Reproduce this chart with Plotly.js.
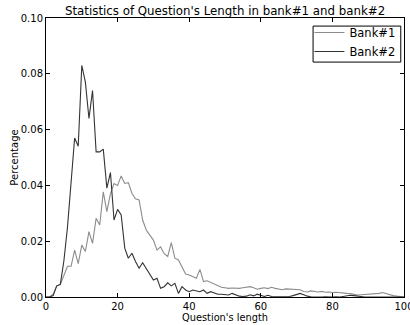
<!DOCTYPE html>
<html>
<head>
<meta charset="utf-8">
<script src="https://cdn.plot.ly/plotly-3.0.1.min.js"></script>
<style>html,body{margin:0;padding:0;background:#fff;}#chart{width:410px;height:325px;}</style>
</head>
<body>
<div id="chart"></div>
<script>
// Question length (0..100)
const lengths = Array.from({length: 101}, (_, i) => i);

const bank1 = [
  0, 0, 0.001, 0.004, 0.0045, 0.008, 0.011, 0.011, 0.0168, 0.012,
  0.0186, 0.0163, 0.0234, 0.0192, 0.0282, 0.0258, 0.0377, 0.0306, 0.037, 0.0407,
  0.040, 0.0434, 0.0407, 0.041, 0.0372, 0.0352, 0.0348, 0.0276, 0.024, 0.0222,
  0.0204, 0.0168, 0.018, 0.0155, 0.0145, 0.0195, 0.0139, 0.0133, 0.0106, 0.0082,
  0.0079, 0.0073, 0.0067, 0.0099, 0.0055, 0.0058, 0.0052, 0.0045, 0.004, 0.0035,
  0.0033, 0.0031, 0.0032, 0.0031, 0.0031, 0.0033, 0.0035, 0.0037, 0.0033, 0.0028,
  0.0031, 0.0033, 0.0030, 0.0035, 0.0031, 0.0028, 0.0026, 0.0029, 0.0028, 0.0027,
  0.0028, 0.0026, 0.0020, 0.0018, 0.0022, 0.0019, 0.0018, 0.0020, 0.0017, 0.0018,
  0.0016, 0.0017, 0.0015, 0.0014, 0.0013, 0.0012, 0.0010, 0.0007, 0.0008, 0.0009,
  0.0010, 0.0010, 0.0011, 0.0013, 0.0016, 0.0012, 0.0008, 0.0005, 0.0003, 0.0001,
  0
];

const bank2 = [
  0, 0, 0.0005, 0.004, 0.0045, 0.013, 0.025, 0.040, 0.057, 0.054,
  0.083, 0.077, 0.064, 0.074, 0.052, 0.052, 0.053, 0.039, 0.0446, 0.0276,
  0.0314, 0.0294, 0.0175, 0.0139, 0.0157, 0.0127, 0.0103, 0.0123, 0.0103, 0.0085,
  0.0061, 0.0067, 0.0031, 0.0037, 0.0051, 0.004, 0.0049, 0.0013, 0.0037, 0.0025,
  0.0019, 0.0025, 0.0022, 0.0019, 0.0025, 0.0013, 0.0019, 0.0014, 0.0010, 0.0010,
  0.0008, 0.0007, 0.0013, 0.0008, 0.0003, 0.0002, 0.0003, 0.0008, 0.0004, 0.0010,
  0.0005, 0.0002, 0.0006, 0.0002, 0.0001, 0.0001, 0.0002, 0.0001, 0.0002, 0.0005,
  0.0009, 0.0013, 0.0008, 0.0003, 0.0001, 0, 0.0001, 0, 0.0001, 0,
  0, 0.0001, 0, 0.0002, 0.0004, 0.0006, 0.0005, 0.0003, 0.0001, 0,
  0, 0, 0, 0, 0, 0, 0, 0, 0, 0,
  0
];

const seriesNames = ["Bank#1", "Bank#2"];
const xTicks = [0, 20, 40, 60, 80, 100];
const yTicks = [0, 0.02, 0.04, 0.06, 0.08, 0.10];

const font = "DejaVu Sans, sans-serif";

const traces = [
  {x: lengths, y: bank1, name: seriesNames[0], mode: "lines", type: "scatter",
   line: {color: "#8c8c8c", width: 1.1}},
  {x: lengths, y: bank2, name: seriesNames[1], mode: "lines", type: "scatter",
   line: {color: "#333333", width: 1.1}}
];

const axisCommon = {
  showgrid: false, zeroline: false, showline: true, linecolor: "#000", linewidth: 1,
  mirror: "allticks", ticks: "inside", ticklen: 4, tickcolor: "#000", tickwidth: 1,
  ticklabeloverflow: "allow",
  tickfont: {family: font, size: 10, color: "#000"}
};

const layout = {
  width: 410, height: 325,
  margin: {l: 46, r: 6, t: 18, b: 28},
  paper_bgcolor: "#fff", plot_bgcolor: "#fff",
  font: {family: font, color: "#000"},
  title: {text: "Statistics of Question's Length in bank#1 and bank#2",
          font: {family: font, size: 11.8, color: "#000"},
          x: 0.549, xanchor: "center", y: 0.968, yanchor: "middle"},
  xaxis: Object.assign({}, axisCommon, {
    range: [0, 100], tickvals: xTicks, ticktext: xTicks.map(String),
    title: {text: "Question's length", font: {family: font, size: 9.8}, standoff: 3}
  }),
  yaxis: Object.assign({}, axisCommon, {
    range: [0, 0.10], tickvals: yTicks, ticktext: yTicks.map(v => v.toFixed(2)),
    title: {text: "Percentage", font: {family: font, size: 10}, standoff: 0}
  }),
  shapes: [{type: "rect", xref: "paper", yref: "paper", layer: "above",
            x0: 0.746, x1: 0.991, y0: 0.842, y1: 0.971,
            line: {color: "#000", width: 1}, fillcolor: "#fff"}],
  showlegend: true,
  legend: {x: 0.99, xanchor: "right", y: 1.0, yanchor: "top",
           borderwidth: 0, bgcolor: "rgba(0,0,0,0)",
           font: {family: font, size: 11.5, color: "#000"},
           tracegroupgap: 0, itemwidth: 30}
};

Plotly.newPlot("chart", traces, layout, {staticPlot: true, displayModeBar: false});
</script>
</body>
</html>
